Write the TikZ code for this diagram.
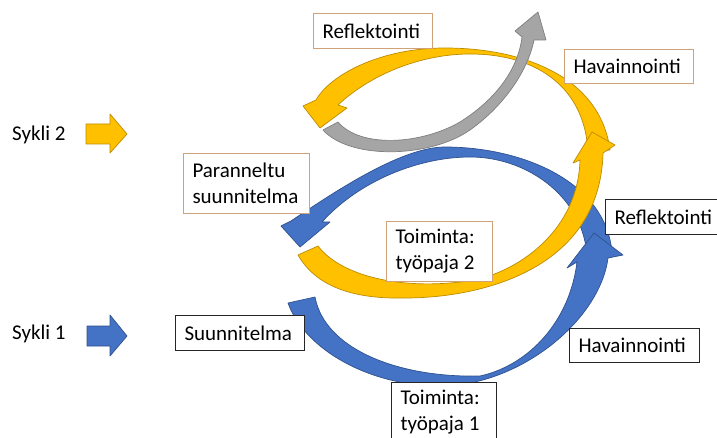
\documentclass[tikz,border=0pt]{standalone}
\usepackage{fontspec}
\setmainfont{Carlito}
\definecolor{pblue}{HTML}{4472C4}
\definecolor{pblueline}{HTML}{2F528F}
\definecolor{pyel}{HTML}{FFC000}
\definecolor{pyelline}{HTML}{BC8C00}
\definecolor{pgray}{HTML}{A5A5A5}
\definecolor{pgrayline}{HTML}{7F7F7F}
\definecolor{boxtan}{HTML}{D0A27A}
\begin{document}
\begin{tikzpicture}[x=1pt,y=-1pt,
  lbl/.style={font=\fontsize{21}{26}\selectfont, inner sep=0pt},
  tanbox/.style={draw=boxtan, line width=1pt, fill=white, anchor=north west,
    inner xsep=9pt, inner ysep=0pt, align=left, font=\fontsize{21}{26}\selectfont},
  blkbox/.style={tanbox, draw=black!85},
  bluearr/.style={fill=pblue, draw=pblueline, line width=0.7pt, line join=round},
  yelarr/.style={fill=pyel, draw=pyelline, line width=0.7pt, line join=round},
  grayarr/.style={fill=pgray, draw=pgrayline, line width=0.7pt, line join=round}]
\useasboundingbox (0,0) rectangle (717,438);
\clip (0,0) rectangle (717,438);
\fill[white] (0,0) rectangle (717,438);

% Blue upper arrow
\filldraw[bluearr] (612,252) .. controls (605,180) and (520,147) .. (445,147)
  .. controls (400,147) and (330,195) .. (291,221)
  -- (281,226) -- (300,247) -- (330,222) -- (322,222)
  .. controls (360,180) and (420,157) .. (470,157)
  .. controls (530,157) and (585,200) .. (587,258) -- cycle;

% Blue lower arrow
\filldraw[bluearr] (288,303) .. controls (305,350) and (370,386) .. (440,386)
  .. controls (520,386) and (600,320) .. (608,258)
  -- (623,255) -- (594,233) -- (567,268) -- (577,262)
  .. controls (570,320) and (530,365) .. (480,376)
  .. controls (400,378) and (325,350) .. (315,297) -- cycle;

% Yellow upper arrow
\filldraw[yelarr] (610,150) .. controls (600,75) and (520,48) .. (445,48)
  .. controls (380,48) and (330,75) .. (316,100)
  -- (303,106) -- (320,128) -- (347,108) -- (338,105)
  .. controls (370,75) and (420,54) .. (470,54)
  .. controls (540,54) and (585,90) .. (588,152) -- cycle;

% Yellow lower arrow
\filldraw[yelarr] (298,255) .. controls (318,290) and (360,299) .. (405,298)
  .. controls (480,298) and (600,270) .. (603,153)
  -- (615,145) -- (592,132) -- (573,163) -- (580,160)
  .. controls (578,230) and (520,270) .. (475,280)
  .. controls (400,292) and (340,275) .. (318,246) -- cycle;

% Gray arrow
\filldraw[grayarr] (323,130) .. controls (350,160) and (430,158) .. (470,130)
  .. controls (505,105) and (528,70) .. (534,40)
  -- (546,40) -- (538,12) -- (515,31) -- (522,37)
  .. controls (518,70) and (495,100) .. (460,122)
  .. controls (420,145) and (360,148) .. (338,122) -- cycle;

% Cycle legend arrows
\filldraw[yelarr] (86,124) -- (110,124) -- (110,114) -- (127,134) -- (110,153) -- (110,144) -- (86,144) -- cycle;
\filldraw[bluearr] (87,326) -- (110,326) -- (110,315) -- (127,336) -- (110,356) -- (110,346) -- (87,346) -- cycle;

\node[lbl, anchor=base west] (s2) at (12,141) {Sykli 2};
\node[lbl, anchor=base west] (s1) at (12,339) {Sykli 1};

% Boxes
\node[tanbox, minimum width=119pt, minimum height=35pt, text width=101pt] (refl2) at (313,13) {Reflektointi};
\node[tanbox, minimum width=129pt, minimum height=34pt, text width=111pt] (hav2) at (564,49) {Havainnointi};
\node[tanbox, minimum width=126pt, minimum height=60pt, text width=108pt] (par) at (183,153) {\spaceskip=0pt\relax Paranneltu\\suunnitelma};
\node[tanbox, minimum width=106pt, minimum height=60pt, text width=88pt] (toi2) at (386,221) {\spaceskip=0pt\relax Toiminta:\\työpaja 2};
\node[blkbox, minimum width=120pt, minimum height=35pt, text width=102pt] (refl1) at (605,199) {Reflektointi};
\node[blkbox, minimum width=130pt, minimum height=34pt, text width=112pt] (hav1) at (569,328) {Havainnointi};
\node[blkbox, minimum width=105pt, minimum height=60pt, text width=87pt] (toi1) at (391,382) {\spaceskip=0pt\relax Toiminta:\\työpaja 1};
\node[blkbox, minimum width=129pt, minimum height=35pt, text width=111pt] (suun) at (175,315) {Suunnitelma};
\end{tikzpicture}
\end{document}
